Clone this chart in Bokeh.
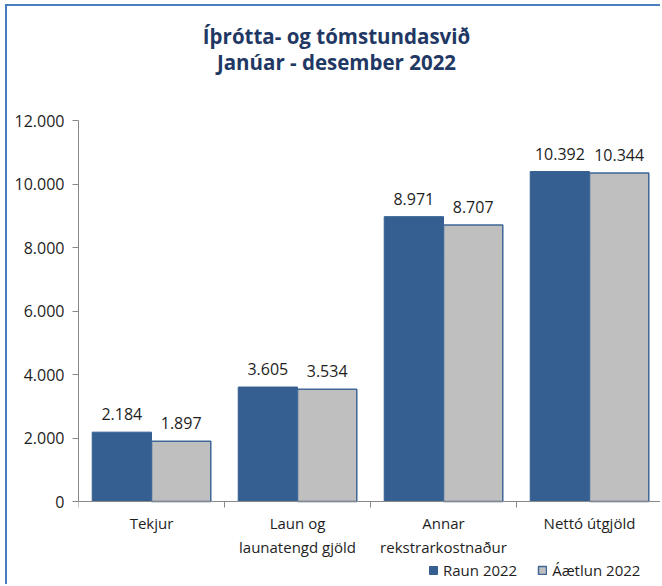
from bokeh.plotting import figure
from bokeh.models import ColumnDataSource, FixedTicker, Legend, LegendItem, LabelSet, Label
from bokeh.core.properties import value
from bokeh.transform import dodge
from bokeh.embed import file_html
from bokeh.resources import INLINE

title_lines = ["Íþrótta- og tómstundasvið", "Janúar - desember 2022"]
categories = ["Tekjur", "Laun og\nlaunatengd gjöld", "Annar\nrekstrarkostnaður", "Nettó útgjöld"]
series_names = ["Raun 2022", "Áætlun 2022"]
raun = [2184, 3605, 8971, 10392]
aetlun = [1897, 3534, 8707, 10344]
raun_labels = ["2.184", "3.605", "8.971", "10.392"]
aetlun_labels = ["1.897", "3.534", "8.707", "10.344"]
y_ticks = [0, 2000, 4000, 6000, 8000, 10000, 12000]
y_tick_labels = ["0", "2.000", "4.000", "6.000", "8.000", "10.000", "12.000"]

FONT = "Open Sans"
BLUE = "#365f91"
GRAY = "#bfbfbf"
TXT = "#1e1e1e"
NAVY = "#1f3864"

# layout (page pixels): content of figure starts at (7, 6); frame spans x 78..662
W, H = 655, 580
TOP_PAGE, Y0_PAGE, YMAX_PAGE, BOTTOM_PAGE = 6, 501, 120, 586
ymax = y_ticks[-1]
per_px = ymax / (Y0_PAGE - YMAX_PAGE)
y_start = -(BOTTOM_PAGE - Y0_PAGE) * per_px
y_end = (Y0_PAGE - TOP_PAGE) * per_px
ncat = len(categories)
X_LEFT_PAGE, X_RIGHT_PAGE = 78, 662


def page_y(py):
    return (Y0_PAGE - py) * per_px


def page_x(px):
    return (px - X_LEFT_PAGE) * ncat / (X_RIGHT_PAGE - X_LEFT_PAGE)


pos = [i + 0.5 for i in range(ncat)]
src = ColumnDataSource(dict(x=pos, raun=raun, aetlun=aetlun, rl=raun_labels, al=aetlun_labels))

p = figure(width=W, height=H, x_range=(0, ncat), y_range=(y_start, y_end),
           output_backend="svg", toolbar_location=None, title=None,
           min_border_left=71, min_border_right=0, min_border_top=0, min_border_bottom=0)
p.styles = {"border-left": "2px solid #4a7ebb", "border-top": "2px solid #4a7ebb",
            "margin-left": "5px", "margin-top": "4px"}

bw = 0.406
r1 = p.vbar(x=dodge("x", -bw / 2, range=p.x_range), top="raun", width=bw, source=src,
            fill_color=BLUE, line_color=BLUE, line_width=1)
r2 = p.vbar(x=dodge("x", bw / 2, range=p.x_range), top="aetlun", width=bw, source=src,
            fill_color=GRAY, line_color="#3f6797", line_width=1.5)

for col, ycol, off in (("rl", "raun", -bw / 2), ("al", "aetlun", bw / 2)):
    p.add_layout(LabelSet(x=dodge("x", off, range=p.x_range), y=ycol, text=col, source=src,
                          text_align="center", text_baseline="middle", y_offset=18,
                          text_font=value(FONT), text_font_size="16px", text_color=TXT))

p.xgrid.visible = False
p.ygrid.visible = False
p.outline_line_color = None

ya = p.yaxis[0]
ya.ticker = FixedTicker(ticks=y_ticks, minor_ticks=[])
ya.bounds = (0, ymax)
ya.major_label_overrides = {t: l for t, l in zip(y_ticks, y_tick_labels)}
ya.axis_line_color = "#888888"
ya.major_tick_line_color = "#888888"
ya.major_tick_out = 6
ya.major_tick_in = 0
ya.major_label_standoff = 8
ya.major_label_text_font = FONT
ya.major_label_text_font_size = "16px"
ya.major_label_text_color = TXT

xa = p.xaxis[0]
xa.fixed_location = 0
xa.ticker = FixedTicker(ticks=pos, minor_ticks=list(range(ncat + 1)))
xa.major_label_overrides = {t: l for t, l in zip(pos, categories)}
xa.axis_line_color = "#888888"
xa.major_tick_out = 0
xa.major_tick_in = 0
xa.minor_tick_out = 6
xa.minor_tick_in = 0
xa.minor_tick_line_color = "#888888"
xa.major_label_standoff = 5
xa.major_label_text_font = FONT
xa.major_label_text_font_size = "15px"
xa.major_label_text_color = TXT

for txt, py in ((title_lines[0], 35), (title_lines[1], 61)):
    p.add_layout(Label(x=page_x(336), y=page_y(py), text=txt, text_align="center",
                       text_baseline="middle", text_font=FONT, text_font_style="bold",
                       text_font_size="20.5px", text_color=NAVY))

legend = Legend(items=[LegendItem(label=series_names[0], renderers=[r1]),
                       LegendItem(label=series_names[1], renderers=[r2])],
                orientation="horizontal", location=(350, 6),
                label_text_font=FONT, label_text_font_size="15px", label_text_color=TXT,
                glyph_width=10, glyph_height=10, label_standoff=5, spacing=20,
                padding=0, margin=0, border_line_alpha=0, background_fill_alpha=0)
p.add_layout(legend, "center")

open("out.html", "w").write(file_html(p, INLINE))
